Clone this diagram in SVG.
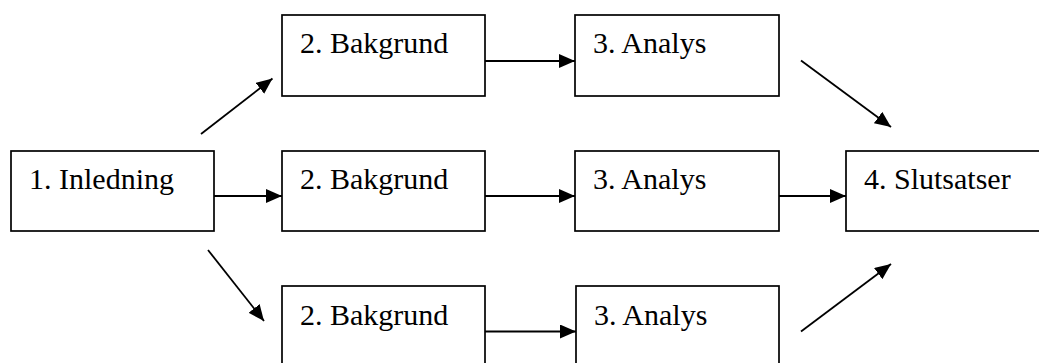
<svg xmlns="http://www.w3.org/2000/svg" width="1039" height="363" viewBox="0 0 1039 363">
<style>
.box{fill:#fff;stroke:#000;stroke-width:1.7}
.lbl{font-family:"Liberation Serif","Times New Roman",serif;font-size:30px;fill:#000}
.con{stroke:#000;stroke-width:1.8;fill:none;marker-end:url(#ah)}
</style>
<defs>
<marker id="ah" viewBox="0 0 16 14" refX="16" refY="7" markerWidth="16" markerHeight="14" markerUnits="userSpaceOnUse" orient="auto">
<path d="M0,0 L16,7 L0,14 z" fill="#000"/>
</marker>
</defs>
<rect width="1039" height="363" fill="#fff"/>
<g id="n1"><rect class="box" x="11" y="151" width="203" height="80"/><text class="lbl" x="29" y="189">1. Inledning</text></g>
<g id="n2a"><rect class="box" x="282" y="15" width="203" height="81"/><text class="lbl" x="300" y="53">2. Bakgrund</text></g>
<g id="n3a"><rect class="box" x="575" y="15" width="204" height="81"/><text class="lbl" x="593" y="53">3. Analys</text></g>
<g id="n2b"><rect class="box" x="282" y="151" width="203" height="80"/><text class="lbl" x="300" y="189">2. Bakgrund</text></g>
<g id="n3b"><rect class="box" x="575" y="151" width="204" height="80"/><text class="lbl" x="593" y="189">3. Analys</text></g>
<g id="n4"><rect class="box" x="846" y="151" width="200" height="80"/><text class="lbl" x="864" y="189">4. Slutsatser</text></g>
<g id="n2c"><rect class="box" x="282" y="286" width="203" height="81"/><text class="lbl" x="300" y="325">2. Bakgrund</text></g>
<g id="n3c"><rect class="box" x="576" y="286" width="203" height="81"/><text class="lbl" x="594" y="325">3. Analys</text></g>
<g id="connectors">
<line class="con" x1="201" y1="134" x2="272.5" y2="78.5"/>
<line class="con" x1="214" y1="196" x2="282" y2="196"/>
<line class="con" x1="208" y1="250" x2="264" y2="321"/>
<line class="con" x1="485" y1="61" x2="575" y2="61"/>
<line class="con" x1="485" y1="196" x2="575" y2="196"/>
<line class="con" x1="485" y1="331.5" x2="576" y2="331.5"/>
<line class="con" x1="779" y1="196" x2="846" y2="196"/>
<line class="con" x1="801" y1="60.5" x2="891" y2="127"/>
<line class="con" x1="801" y1="331.5" x2="891" y2="264"/>
</g>
</svg>
